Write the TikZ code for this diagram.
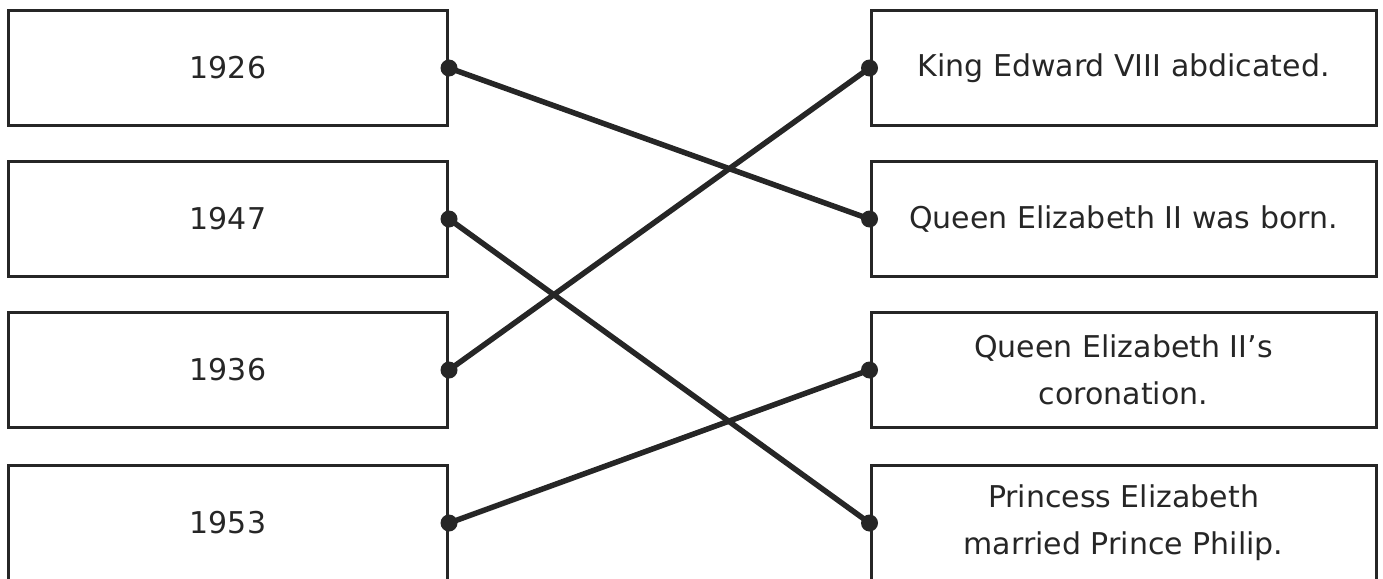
\documentclass[tikz,border=0pt]{standalone}
\usepackage{fontspec}
\setmainfont{DejaVu Sans}
\usetikzlibrary{positioning}
\definecolor{inkgrey}{HTML}{262626}
\tikzset{
        matchbox/.style={align=center, draw=inkgrey, text=inkgrey, line width=3pt, inner sep=0pt,
            minimum height=115pt, font=\fontsize{30}{47}\selectfont},
        % Year boxes on the left
        node_year/.style={matchbox, minimum width=439pt},
        % Event boxes on the right
        node_event/.style={matchbox, minimum width=505pt},
        % Matching lines
        line_match/.style={draw=inkgrey, line width=5.5pt},
        dot_end/.style={fill=inkgrey}
}
\begin{document}
\begin{tikzpicture}[x=1pt, y=-1pt]
    \useasboundingbox (0,0) rectangle (1383,578);
    % years
    \node[node_year] (y1926) at (228,68) {1926};
    \node[node_year] (y1947) at (228,219) {1947};
    \node[node_year] (y1936) at (228,370) {1936};
    \node[node_year] (y1953) at (228,523) {1953};
    % events
    \node[node_event] (abdicated) at (1123.5,68) {King Edward VIII abdicated.};
    \node[node_event] (born) at (1123.5,219) {Queen Elizabeth II was born.};
    \node[node_event] (coronation) at (1123.5,370) {Queen Elizabeth II's\\coronation.};
    \node[node_event] (married) at (1123.5,523) {Princess Elizabeth\\married Prince Philip.};
    % matches
    \draw[line_match] (y1926.east) -- (born.west);
    \draw[line_match] (y1947.east) -- (married.west);
    \draw[line_match] (y1936.east) -- (abdicated.west);
    \draw[line_match] (y1953.east) -- (coronation.west);
    \foreach \n in {y1926,y1947,y1936,y1953}
        \fill[dot_end] (\n.east) circle (8.5pt);
    \foreach \n in {abdicated,born,coronation,married}
        \fill[dot_end] (\n.west) circle (8.5pt);
\end{tikzpicture}
\end{document}
